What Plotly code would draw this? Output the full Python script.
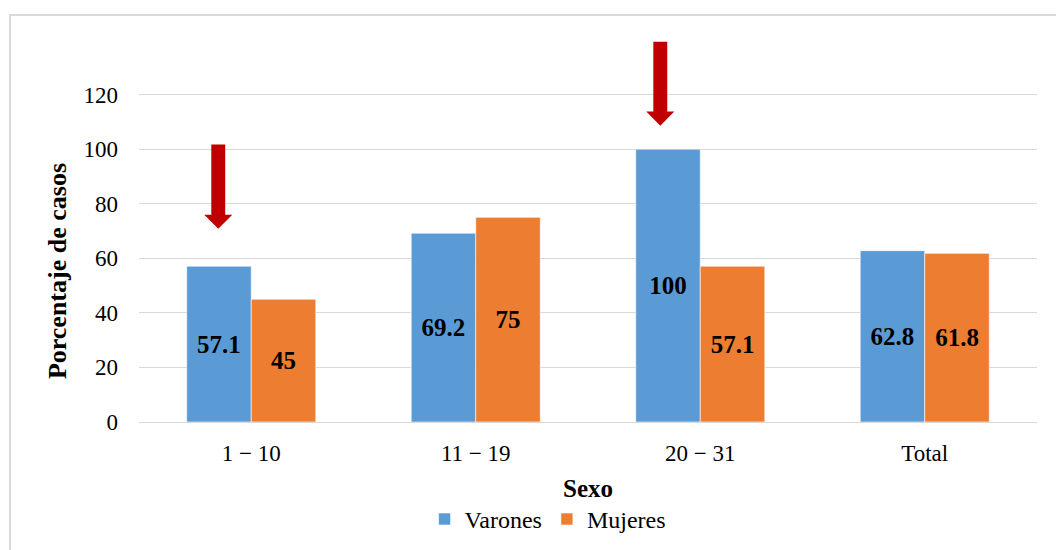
import plotly.graph_objects as go

# Age groups (days) and percentage of cases by sex
categories = ["1 − 10", "11 − 19", "20 − 31", "Total"]
varones = [57.1, 69.2, 100, 62.8]
mujeres = [45, 75, 57.1, 61.8]

# Highlight arrows: (x position in category units, top value, tip value)
arrows = [
    (-0.147, 101.7, 70.8),
    (2 - 0.178, 139.4, 108.6),
]

FONT = "Liberation Serif"
BLUE = "#5B9BD5"
ORANGE = "#ED7D31"

x_pos = list(range(len(categories)))

fig = go.Figure()
for name, vals, color in [("Varones", varones, BLUE), ("Mujeres", mujeres, ORANGE)]:
    fig.add_trace(go.Bar(
        name=name, x=x_pos, y=vals, marker_color=color,
        marker_line=dict(color="rgba(255,255,255,0.6)", width=1),
        text=[f"{v:g}" for v in vals], textposition="inside",
        insidetextanchor="middle",
        textfont=dict(family=FONT, size=25, color="black", weight="bold"),
    ))

shapes = []
shaft_half = 0.031
head_half = 0.0625
head_len = 5.2
for ax, top, tip in arrows:
    neck = tip + head_len
    path = (f"M {ax - shaft_half},{top} L {ax + shaft_half},{top} "
            f"L {ax + shaft_half},{neck} L {ax + head_half},{neck} "
            f"L {ax},{tip} L {ax - head_half},{neck} "
            f"L {ax - shaft_half},{neck} Z")
    shapes.append(dict(type="path", path=path, xref="x", yref="y",
                       fillcolor="#C00000", line=dict(width=0)))

# Outer chart frame (left and top edges)
shapes.append(dict(type="rect", xref="paper", yref="paper",
                   x0=-0.1437, x1=1.2, y0=-0.6, y1=1.0654,
                   line=dict(color="#d9d9d9", width=2), layer="below"))

fig.update_layout(
    width=1056, height=550,
    margin=dict(l=139, r=19, t=40, b=128, autoexpand=False),
    barmode="group", bargap=0.425, bargroupgap=0,
    plot_bgcolor="white", paper_bgcolor="white",
    font=dict(family=FONT, size=23, color="black"),
    shapes=shapes,
    annotations=[dict(
        text="<b>Porcentaje de casos</b>", textangle=-90,
        xref="paper", yref="paper", x=-0.0913, y=0.395,
        xanchor="center", yanchor="middle", showarrow=False,
        font=dict(family=FONT, size=26, color="black"),
    )],
    showlegend=True,
    legend=dict(orientation="h", x=0.455, xanchor="center", y=-0.255,
                yanchor="middle",
                font=dict(family=FONT, size=24, color="black"),
                itemwidth=30, traceorder="normal"),
    xaxis=dict(
        tickvals=x_pos, ticktext=categories, range=[-0.5, 3.5],
        showgrid=False, zeroline=False, ticks="", tickfont=dict(size=23),
        ticklabelstandoff=10, automargin=False,
        title=dict(text="<b>Sexo</b>", font=dict(size=25), standoff=14),
        showline=True, linecolor="#d9d9d9", linewidth=1,
    ),
    yaxis=dict(
        range=[0, 140], tickvals=[0, 20, 40, 60, 80, 100, 120],
        showgrid=True, gridcolor="#d9d9d9", gridwidth=1,
        zeroline=False, ticks="", tickfont=dict(size=23),
        ticklabelstandoff=20, automargin=False,
    ),
)

fig.write_html("out.html")
